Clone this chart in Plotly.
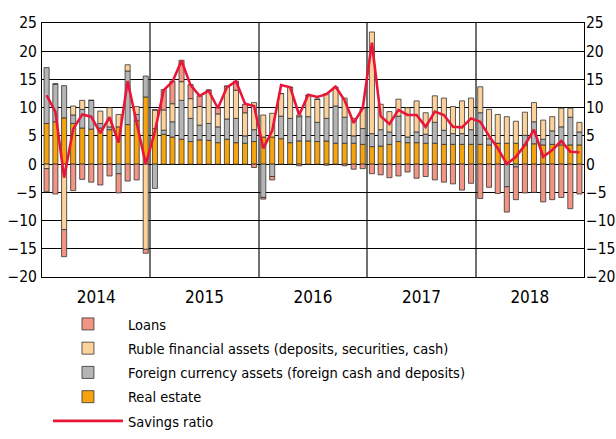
import plotly.graph_objects as go
import pandas as pd

months = pd.date_range("2014-01-01", "2018-12-01", freq="MS").strftime("%Y-%m-%d").tolist()

real_estate = [7.2, 7.5, 8.2, 7.2, 6.4, 6.2, 6.4, 6.1, 6.6, 7.0, 7.7, 11.9,
               6.3, 5.3, 4.8, 4.4, 4.0, 4.3, 4.2, 3.8, 4.4, 3.8, 3.7, 4.0,
               4.8, 4.8, 4.5, 3.8, 4.1, 4.1, 4.0, 4.1, 3.7, 3.7, 3.7, 3.5,
               3.1, 3.2, 3.5, 4.0, 3.8, 3.8, 3.7, 3.7, 3.5, 3.5, 3.5, 3.5,
               3.5, 3.4, 3.7, 3.7, 3.7, 3.4, 3.6, 3.4, 3.5, 3.4, 3.4, 3.4]
foreign = [9.9, 6.7, 5.7, 1.5, 3.3, 5.1, 0.8, 0.5, -1.7, 9.5, 1.1, 3.7,
           -4.3, 0.7, 2.7, 6.9, 4.1, 2.6, 3.0, 2.8, 3.6, 4.3, 1.3, 2.1,
           -5.9, -2.2, 4.0, 4.3, 4.3, 4.3, 3.4, 4.0, 6.6, 4.6, 1.3, 2.8,
           2.3, 2.9, 2.2, 4.5, 1.0, 1.9, 1.6, 3.7, 2.5, 1.9, 1.9, 2.6,
           5.6, 1.1, 0.0, -4.0, -0.5, 1.7, 3.9, 1.0, 2.4, 3.2, 4.9, 2.3]
ruble = [-0.8, 0.0, -11.6, 1.6, 1.6, 0.0, 2.2, 3.4, 2.2, 1.1, 1.4, -15.1,
         3.3, 3.6, 3.2, 3.3, 3.5, 3.3, 5.9, 2.3, 5.8, 5.0, 4.1, 4.8,
         3.9, 4.2, 4.0, 5.5, 0.3, 3.8, 4.1, 4.4, 3.3, 3.4, 3.1, 3.6,
         18.0, 4.5, 3.6, 3.0, 5.2, 5.5, 3.8, 4.7, 5.7, 4.8, 5.8, 5.6,
         4.6, 5.2, 5.1, 4.7, 3.9, 4.1, 3.4, 3.4, 2.5, 3.3, 1.6, 1.7]
loans = [-4.1, -5.3, -4.8, -4.7, -2.7, -3.2, -3.7, -2.1, -3.4, -3.0, -2.8, -0.7,
         0.0, 3.6, 4.0, 3.8, 2.5, 1.9, 0.0, 1.1, 0.0, 1.6, 1.5, -0.6,
         -0.3, -0.6, 0.0, 0.0, -0.3, 0.0, 0.0, -0.2, 0.0, -0.3, -0.9, -0.8,
         -1.7, -1.9, -2.4, -2.1, -1.4, -2.5, -2.2, -2.8, -3.2, -3.5, -4.6, -3.4,
         -6.1, -4.1, -5.2, -4.5, -5.8, -5.1, -5.0, -6.7, -6.3, -5.9, -7.9, -5.3]
savings = [12.2, 9.3, -2.4, 6.2, 8.8, 8.4, 5.5, 8.3, 3.8, 14.7, 7.3, 0.0,
           5.8, 13.1, 14.6, 18.3, 14.0, 12.1, 13.0, 9.9, 13.6, 14.7, 10.7, 10.3,
           2.8, 5.9, 14.0, 13.6, 8.7, 12.3, 11.9, 12.4, 13.7, 11.3, 7.3, 9.9,
           21.5, 8.5, 7.1, 9.6, 8.7, 8.7, 6.6, 9.3, 8.7, 6.6, 6.5, 8.1,
           7.5, 5.0, 2.8, 0.0, 1.3, 3.4, 6.1, 1.3, 2.5, 4.1, 2.2, 2.1]

y_ticks = [25, 20, 15, 10, 5, 0, -5, -10, -15, -20]

FONT = "DejaVu Sans Condensed, Liberation Sans, Arial, sans-serif"
edge = dict(color="#333333", width=0.8)

fig = go.Figure()
bar_specs = [
    ("Real estate", real_estate, "#F5A30F", 4),
    ("Foreign currency assets (foreign cash and deposits)", foreign, "#B5B5B5", 3),
    ("Ruble financial assets (deposits, securities, cash)", ruble, "#FDD29A", 2),
    ("Loans", loans, "#F39584", 1),
]
for name, vals, col, rank in bar_specs:
    fig.add_trace(go.Bar(x=months, y=vals, name=name, marker=dict(color=col, line=edge),
                         xperiod="M1", xperiodalignment="middle", legendrank=rank,
                         legendgroup=name))
fig.add_trace(go.Scatter(x=months, y=savings, name="Savings ratio", mode="lines",
                         line=dict(color="#E8173A", width=2.6), legendgroup="sav",
                         xperiod="M1", xperiodalignment="middle", legendrank=5))
fig.add_trace(go.Scatter(x=months, y=savings, yaxis="y2", mode="lines",
                         line=dict(width=0), showlegend=False, hoverinfo="skip",
                         xperiod="M1", xperiodalignment="middle"))

fig.update_layout(
    width=616, height=439,
    margin=dict(l=42, r=32, t=23, b=162, autoexpand=False),
    barmode="relative", bargap=0.42,
    plot_bgcolor="white", paper_bgcolor="white",
    font=dict(family=FONT, size=16, color="black"),
    xaxis=dict(type="date", range=["2014-01-01", "2019-01-01"], dtick="M12",
               tick0="2014-01-01", tickformat="%Y", ticklabelmode="period",
               showgrid=True, gridcolor="#707070", gridwidth=1.5,
               showline=True, linecolor="black", linewidth=1, mirror=True,
               ticks="", tickfont=dict(size=17), automargin=False, ticklabelstandoff=5),
    yaxis=dict(range=[-20, 25], tickvals=y_ticks, showgrid=True, gridcolor="black",
               gridwidth=1, zeroline=True, zerolinecolor="black", zerolinewidth=1,
               showline=True, linecolor="black", linewidth=1, mirror=True,
               ticks="", tickfont=dict(size=15.5), automargin=False, ticklabelstandoff=1),
    yaxis2=dict(range=[-20, 25], tickvals=y_ticks, overlaying="y", side="right",
                showgrid=False, zeroline=False, ticks="", tickfont=dict(size=15.5),
                automargin=False, ticklabelstandoff=1),
    legend=dict(x=0.011, y=-0.122, xanchor="left", yanchor="top", bgcolor="rgba(0,0,0,0)",
                font=dict(size=14.5), tracegroupgap=2.4, itemwidth=70),
    showlegend=True,
)
fig.write_html("out.html", config={"displayModeBar": False},
               post_script="document.body.style.margin='0';")
